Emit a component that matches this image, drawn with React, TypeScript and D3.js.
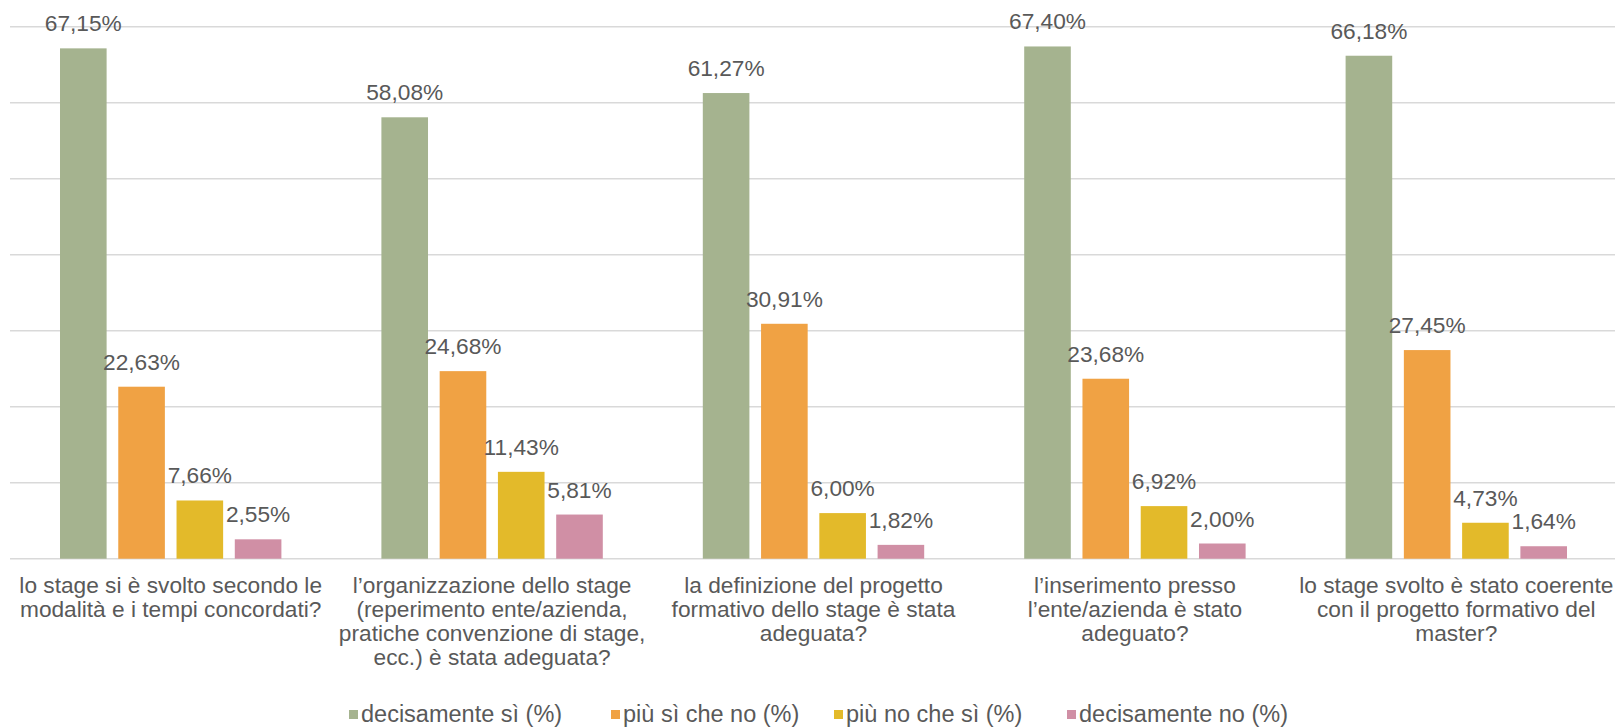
import React from "react";
import * as d3 from "d3";

const categories = [
  "lo stage si è svolto secondo le modalità e i tempi concordati?",
  "l’organizzazione dello stage (reperimento ente/azienda, pratiche convenzione di stage, ecc.) è stata adeguata?",
  "la definizione del progetto formativo dello stage è stata adeguata?",
  "l’inserimento presso l’ente/azienda è stato adeguato?",
  "lo stage svolto è stato coerente con il progetto formativo del master?",
];
const categoryLines = [
  ["lo stage si è svolto secondo le", "modalità e i tempi concordati?"],
  ["l’organizzazione dello stage", "(reperimento ente/azienda,", "pratiche convenzione di stage,", "ecc.) è stata adeguata?"],
  ["la definizione del progetto", "formativo dello stage è stata", "adeguata?"],
  ["l’inserimento presso", "l’ente/azienda è stato", "adeguato?"],
  ["lo stage svolto è stato coerente", "con il progetto formativo del", "master?"],
];
const seriesNames = ["decisamente sì (%)", "più sì che no (%)", "più no che sì (%)", "decisamente no (%)"];
const decisamenteSi = [67.15, 58.08, 61.27, 67.4, 66.18];
const piuSiCheNo = [22.63, 24.68, 30.91, 23.68, 27.45];
const piuNoCheSi = [7.66, 11.43, 6.0, 6.92, 4.73];
const decisamenteNo = [2.55, 5.81, 1.82, 2.0, 1.64];
const seriesValues = [decisamenteSi, piuSiCheNo, piuNoCheSi, decisamenteNo];
const colors = ["#A5B38F", "#F0A244", "#E3BA2A", "#D08FA5"];
const yTicks = [0, 10, 20, 30, 40, 50, 60, 70];

const W = 1615;
const H = 727;
const TEXT = "#595959";
const FONT = "'Liberation Sans', Arial, sans-serif";

const fmt = (v: number) => v.toFixed(2).replace(".", ",") + "%";

export default function App() {
  const x = d3.scaleBand<string>().domain(categories).range([10, 1617]).padding(0);
  const xs = d3
    .scaleBand<string>()
    .domain(seriesNames)
    .range([50, x.bandwidth() - 50])
    .paddingInner(0.2)
    .paddingOuter(0);
  const y = d3.scaleLinear().domain([0, 70]).range([558.7, 26.7]);

  const legendX = [349, 611, 834, 1067];

  return (
    <div style={{ position: "fixed", left: 0, top: 0 }}>
      <svg width={W} height={H} style={{ display: "block", background: "#fff" }} fontFamily={FONT}>
        {yTicks.map((t) => (
          <line key={t} x1={10} x2={W} y1={y(t)} y2={y(t)} stroke="#D9D9D9" strokeWidth={1.5} />
        ))}
        {categories.map((c, ci) => (
          <g key={c} transform={`translate(${x(c)},0)`}>
            {seriesNames.map((s, si) => {
              const v = seriesValues[si][ci];
              const bx = xs(s)!;
              return (
                <g key={s}>
                  <rect x={bx} y={y(v)} width={xs.bandwidth()} height={y(0) - y(v)} fill={colors[si]} />
                  <text
                    x={bx + xs.bandwidth() / 2}
                    y={y(v) - 17}
                    textAnchor="middle"
                    fontSize={22.7}
                    fill={TEXT}
                  >
                    {fmt(v)}
                  </text>
                </g>
              );
            })}
            <text textAnchor="middle" fontSize={22.7} fill={TEXT}>
              {categoryLines[ci].map((l, li) => (
                <tspan key={li} x={x.bandwidth() / 2} y={592.5 + li * 24.3}>
                  {l}
                </tspan>
              ))}
            </text>
          </g>
        ))}
        {seriesNames.map((s, si) => (
          <g key={s} transform={`translate(${legendX[si]},0)`}>
            <rect x={0} y={710} width={9} height={9} fill={colors[si]} />
            <text x={12} y={722} fontSize={23.5} fill={TEXT}>
              {s}
            </text>
          </g>
        ))}
      </svg>
    </div>
  );
}
